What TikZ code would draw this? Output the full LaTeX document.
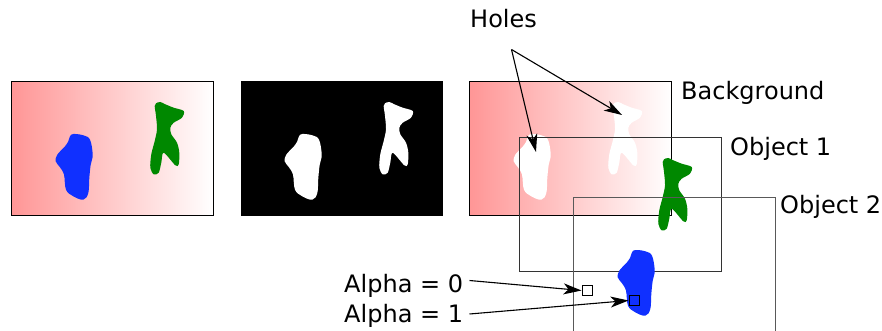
\documentclass[tikz,border=0pt]{standalone}
\usepackage{fontspec}
\setmainfont{DejaVu Sans}
\usetikzlibrary{arrows.meta}
\definecolor{bgred}{RGB}{255,150,150}
\definecolor{objblue}{RGB}{16,48,255}
\definecolor{objgreen}{RGB}{0,136,0}
% blob outlines, relative to the top-left corner of a 202x134 frame
\newcommand\blueblob{plot[smooth cycle, tension=0.6] coordinates {
  (58.5,54.8) (61.8,52.5) (71.8,53.8) (78.5,58.2) (81.2,73.2) (79.2,83.2)
  (77.8,96.5) (76.8,111.5) (71.8,118.2) (61.8,114.8) (54.5,108.2) (52.5,93.2)
  (48.5,85.8) (44.2,79.8) (45.8,73.2) (53.5,64.8) (56.8,59.8)}}
\newcommand\greenblob{plot[smooth cycle, tension=0.5] coordinates {
  (144.5,21.8) (148.8,20.5) (153.8,22.8) (162.2,26.2) (172.2,29.5) (170.5,36.2)
  (162.2,41.2) (158.8,46.2) (159.8,52.8) (165.5,61.2) (167.8,71.2) (167.2,82.8)
  (163.8,83.8) (152.2,71.2) (149.8,81.2) (147.2,91.2) (142.2,92.8) (138.8,86.2)
  (139.8,72.8) (143.2,59.5) (145.5,47.8) (144.5,34.5) (143.2,24.5)}}
\tikzset{
  label/.style={anchor=base west, inner sep=0pt, font=\fontsize{24}{28}\selectfont},
  frame/.style={draw=black!80, line width=1pt},
  pointer/.style={line width=1.1pt, -{Stealth[length=18pt, width=11pt, inset=5pt]}},
  probe/.style={draw, line width=1pt, minimum size=10pt, inner sep=0pt},
}
\begin{document}
\begin{tikzpicture}[x=1pt, y=-1pt]
\useasboundingbox (0,0) rectangle (882,331);
\fill[white] (0,0) rectangle (882,331);

% colour image
\shade[left color=bgred, right color=white] (11.5,81.5) rectangle (213.5,215.5);
\begin{scope}[shift={(11.5,81.5)}]
  \fill[objblue] \blueblob;
  \fill[objgreen] \greenblob;
\end{scope}
\draw[black, line width=1pt] (11.5,81.5) rectangle (213.5,215.5);

% mask
\fill[black] (240.5,81.5) rectangle (442.5,215.5);
\begin{scope}[shift={(240.5,81.5)}]
  \fill[white] \blueblob;
  \fill[white] \greenblob;
\end{scope}

% layered composition: background with holes
\shade[left color=bgred, right color=white] (469.5,81.5) rectangle (671.5,215.5);
\begin{scope}[shift={(469.5,81.5)}]
  \fill[white] \blueblob;
  \fill[white] \greenblob;
\end{scope}
\draw[black, line width=1pt] (469.5,81.5) rectangle (671.5,215.5);

% object 1
\draw[frame] (519.5,137.5) rectangle (721.5,271.5);
\begin{scope}[shift={(519.5,137.5)}]
  \fill[objgreen] \greenblob;
\end{scope}

% object 2
\draw[frame, draw=black!65] (573.5,197.5) rectangle (775.5,331.5);
\begin{scope}[shift={(573.5,197.5)}]
  \fill[objblue] \blueblob;
\end{scope}

% pixel probes
\node[probe, fill=white] (p0) at (587,290.5) {};
\node[probe] (p1) at (634,300.5) {};

% labels
\node[label] (holes) at (470,28) {Holes};
\node[label] (bgl) at (681,100) {Background};
\node[label] (o1l) at (730,156) {Object 1};
\node[label] (o2l) at (780,213) {Object 2};
\node[label] (a0l) at (344,292) {Alpha = 0};
\node[label] (a1l) at (344,322) {Alpha = 1};

% pointers
\coordinate (hsrc) at (511.5,49.5);
\coordinate (hole1) at (536,152);
\coordinate (hole2) at (622,115);
\coordinate (a0src) at (469.5,280.5);
\coordinate (a1src) at (469.5,314);
\draw[pointer] (hsrc) -- (hole1);
\draw[pointer] (hsrc) -- (hole2);
\draw[pointer] (a0src) -- (p0.west);
\draw[pointer] (a1src) -- (p1.west);
\end{tikzpicture}
\end{document}
